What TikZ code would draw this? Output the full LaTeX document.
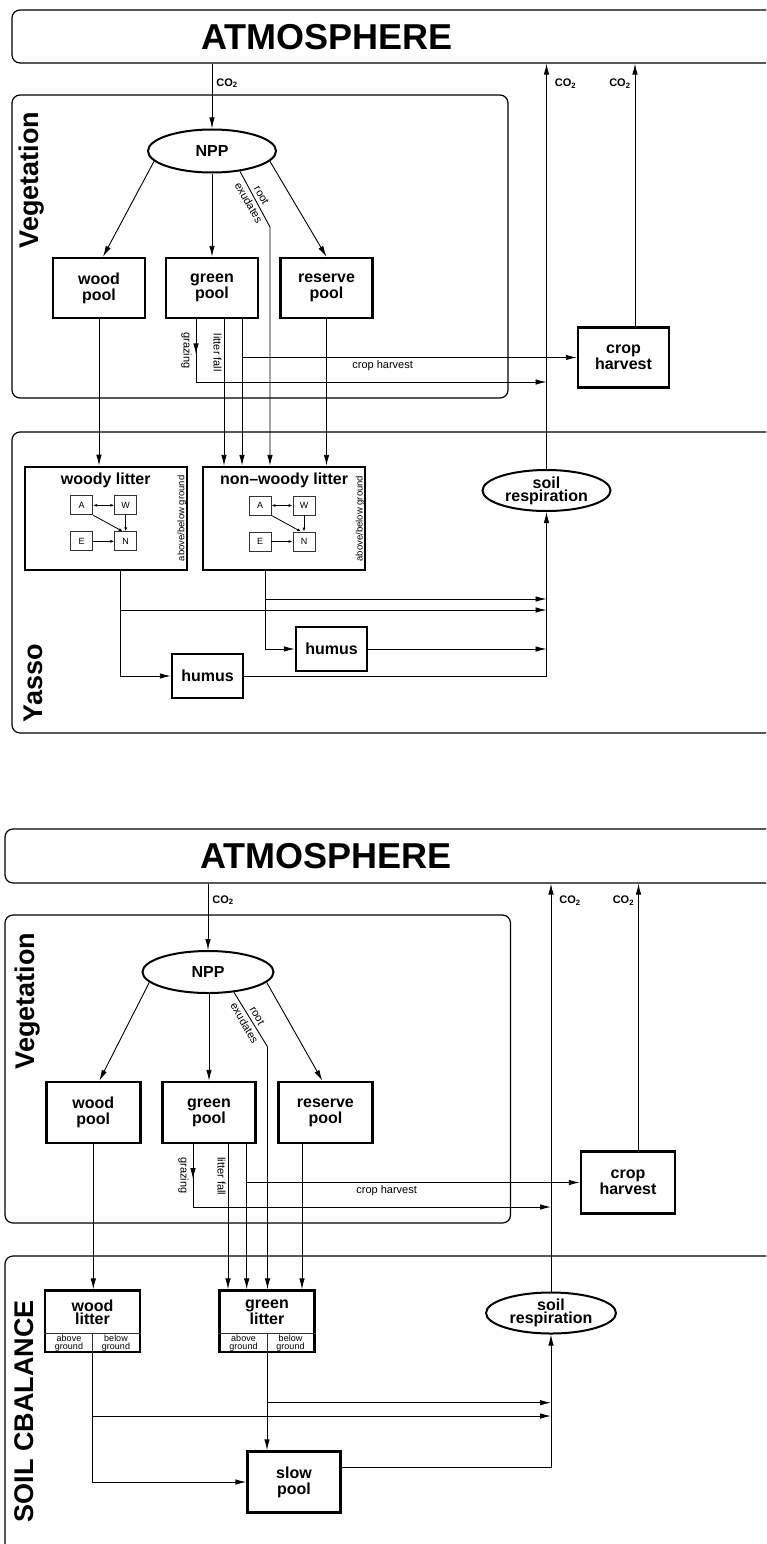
\documentclass[tikz,border=0pt]{standalone}
\usepackage{fontspec}
\setmainfont{Liberation Sans}
\usetikzlibrary{arrows.meta, shapes.geometric, positioning, fit, decorations.markings}

\begin{document}
\begin{tikzpicture}[
    x=1pt, y=-1pt,
    >={Latex[length=11pt,width=5.5pt]},
    panel/.style={draw, line width=1.2pt, rounded corners=8pt, inner sep=0pt},
    pool/.style={draw, line width=2.4pt, minimum width=92pt, minimum height=60pt,
        align=center, inner sep=0pt, font=\fontsize{16}{16}\selectfont\bfseries},
    humus/.style={pool, minimum width=71pt, minimum height=44pt},
    litter/.style={draw, line width=2.4pt, minimum width=162pt, minimum height=103pt},
    litbox/.style={draw, line width=2.4pt, minimum width=95pt, minimum height=61.5pt},
    oval/.style={ellipse, draw, line width=2pt, minimum width=128pt, minimum height=43pt,
        align=center, inner sep=0pt, font=\fontsize{16}{13}\selectfont\bfseries},
    title/.style={align=center, inner sep=0pt, font=\fontsize{16}{13}\selectfont\bfseries},
    comp/.style={draw=black!80, line width=0.8pt, minimum width=22pt, minimum height=19pt,
        inner sep=0pt, font=\fontsize{9}{9}\selectfont},
    flow/.style={->, line width=0.9pt},
    tiny/.style={-{Latex[length=4pt,width=3pt]}, line width=0.8pt},
    tinyboth/.style={{Latex[length=4pt,width=3pt]}-{Latex[length=4pt,width=3pt]}, line width=0.8pt},
    divider/.style={draw=black!80, line width=0.8pt},
    midarrow/.style={postaction={decorate}, decoration={markings,
        mark=at position #1 with {\arrow{Latex[length=11pt,width=5.5pt]}}}},
    big/.style={inner sep=0pt, font=\fontsize{36}{36}\selectfont\bfseries},
    side/.style={inner sep=0pt, rotate=90, font=\fontsize{27}{27}\selectfont\bfseries},
    lab/.style={align=center, inner sep=2pt, font=\fontsize{11}{11}\selectfont},
    rootlab/.style={align=center, inner sep=0pt, rotate=-60, font=\fontsize{11}{15}\selectfont},
    tinylab/.style={align=center, inner sep=0pt, font=\fontsize{9}{7.5}\selectfont},
    gas/.style={inner sep=4pt, font=\fontsize{11}{11}\selectfont\bfseries}
]
\useasboundingbox (0,0) rectangle (766,1544);
\clip (0,0) rectangle (766,1544);

% ---------------- Yasso version ----------------
% Panels
\node[panel, fit={(12,10) (790,63)}] (atm1) {};
\node[big] (atm1t) at (327,37) {ATMOSPHERE};
\node[panel, fit={(12,95) (508,398)}] (veg1) {};
\node[side] (veg1t) at (32,180) {Vegetation};
\node[panel, fit={(12,432) (790,733)}] (yas1) {};
\node[side] (yas1t) at (33,683) {Yasso};

% Nodes
\node[oval] (npp1) at (212,151) {NPP};
\node[pool] (wp1) at (99,288) {wood\\pool};
\node[pool] (gp1) at (212,288) {green\\pool};
\node[pool] (rp1) at (326.5,288) {reserve\\pool};
\node[pool, minimum width=91pt] (ch1) at (623.5,357.5) {crop\\harvest};
\node[litter] (wl1) at (105.7,518.3) {};
\node[litter] (nwl1) at (284,518.5) {};
\node[title] (wl1t) at ([yshift=-14.5pt]wl1.north) {woody litter};
\node[title] (nwl1t) at ([yshift=-14.5pt]nwl1.north) {non--woody litter};
\node[oval, minimum height=41pt] (sr1) at (546.5,490.5) {soil\\respiration};
\node[humus] (hu1) at (207.5,676) {humus};
\node[humus] (hu2) at (331.5,649) {humus};

% Litter compartments
\foreach \b in {wl1, nwl1} {
    \node[comp] (\b-A) at ([xshift=-24pt, yshift=13pt]\b.center) {A};
    \node[comp] (\b-W) at ([xshift=20pt, yshift=13pt]\b.center) {W};
    \node[comp] (\b-E) at ([xshift=-24pt, yshift=-23pt]\b.center) {E};
    \node[comp] (\b-N) at ([xshift=20pt, yshift=-23pt]\b.center) {N};
    \draw[tinyboth] (\b-A) -- (\b-W);
    \draw[tiny] (\b-W) -- (\b-N);
    \draw[tiny] (\b-A.south east) -- ([xshift=-3pt]\b-N.north);
    \draw[tiny] (\b-E) -- (\b-N);
    \node[tinylab, rotate=90, font=\fontsize{9.5}{9.5}\selectfont] (\b-g) at ([xshift=-6pt]\b.east) {above/below ground};
}

% Vegetation flows
\draw[flow] (atm1.south -| npp1) -- node[gas, right, pos=0.3] {CO\textsubscript{2}} (npp1.north);
\draw[flow] (npp1.190) -- ([xshift=4pt]wp1.north);
\draw[flow] (npp1) -- (gp1);
\draw[flow] (npp1.350) -- (rp1.north);
\coordinate (rx1) at (270,227);
\draw[flow] (npp1.324) -- node[rootlab] {root\\exudates} (rx1) -- (rx1 |- nwl1.north);
\draw[flow] (wp1.south) -- (wp1.south |- wl1.north);
\coordinate (gz1) at (196,382);
\draw[flow, midarrow=0.085] (gp1.south -| gz1) -- node[lab, rotate=-90, anchor=north, inner sep=4pt] {grazing} (gz1) -- (gz1 -| sr1);
\coordinate (lf1) at ([xshift=12pt]gp1.south);
\draw[flow] (lf1) -- node[lab, rotate=-90, anchor=north, pos=0.23] {litter fall} (lf1 |- nwl1.north);
\coordinate (ch1a) at ([xshift=30pt]gp1.south);
\draw[flow] (ch1a) -- (ch1a |- nwl1.north);
\draw[flow] (ch1a |- ch1.west) -- node[lab, below, pos=0.42, inner sep=3pt] {crop harvest} (ch1.west);
\draw[flow] (rp1.south) -- (rp1.south |- nwl1.north);
\coordinate (ch1u) at ([xshift=11.5pt]ch1.north);
\draw[flow] (ch1u) -- node[gas, left, pos=0.924] {CO\textsubscript{2}} (ch1u |- atm1.south);
\draw[flow] (sr1.north) -- node[gas, right, pos=0.951, inner sep=8pt] {CO\textsubscript{2}} (sr1.north |- atm1.south);

% Yasso flows
\coordinate (wl1b) at ([xshift=15pt]wl1.south);
\draw[flow] (wl1b) |- (hu1.west);
\draw[flow] (wl1b |- 0,610) -- (sr1 |- 0,610);
\coordinate (nwl1b) at ([xshift=-19pt]nwl1.south);
\draw[flow] (nwl1b) |- (hu2.west);
\draw[flow] (nwl1b |- 0,599) -- (sr1 |- 0,599);
\draw[flow] (hu2.east) -- (hu2.east -| sr1);
\draw[flow] (hu1.east) -| (sr1.south);

% ---------------- CBALANCE version ----------------
% Panels
\node[panel, fit={(5,829) (790,883)}] (atm2) {};
\node[big] (atm2t) at (326,856.5) {ATMOSPHERE};
\node[panel, fit={(5,915) (510.5,1223)}] (veg2) {};
\node[side] (veg2t) at (28,1001) {Vegetation};
\node[panel, fit={(5,1256) (790,1600)}] (soil2) {};
\node[side] (soil2t) at (24.5,1411) {SOIL CBALANCE};

% Nodes
\node[oval, minimum width=131pt, minimum height=42pt] (npp2) at (208,972) {NPP};
\node[pool, minimum width=94pt, minimum height=61pt] (wp2) at (93.3,1112.5) {wood\\pool};
\node[pool, minimum width=93pt, minimum height=61pt] (gp2) at (209,1112.5) {green\\pool};
\node[pool, minimum width=94pt, minimum height=61pt] (rp2) at (325.4,1112.5) {reserve\\pool};
\node[pool, minimum width=94pt, minimum height=62pt] (ch2) at (628,1182.5) {crop\\harvest};
\node[litbox] (wl2) at (92.5,1321.3) {};
\node[litbox] (gl2) at (267,1321.3) {};
\node[oval, minimum width=130pt, minimum height=41pt] (sr2) at (551,1313) {soil\\respiration};
\node[pool, minimum width=93pt, minimum height=61pt] (sp2) at (294,1482) {slow\\pool};
\node[title] (wl2t) at ([yshift=9pt]wl2.center) {wood\\litter};
\node[title] (gl2t) at ([yshift=9pt]gl2.center) {green\\litter};

% Litter subdivisions
\foreach \b in {wl2, gl2} {
    \draw[divider] ([yshift=20pt]\b.south west) -- ([yshift=20pt]\b.south east);
    \draw[divider] (\b.south) -- ([yshift=20pt]\b.south);
    \node[tinylab] (\b-ab) at ([xshift=-23.5pt, yshift=10pt]\b.south) {above\\ground};
    \node[tinylab] (\b-be) at ([xshift=23.5pt, yshift=10pt]\b.south) {below\\ground};
}

% Vegetation flows
\draw[flow] (atm2.south -| npp2) -- node[gas, right, pos=0.25] {CO\textsubscript{2}} (npp2.north);
\draw[flow] (npp2.190) -- ([xshift=6pt]wp2.north);
\draw[flow] (gp2 |- npp2.south) -- (gp2.north);
\draw[flow] (npp2.350) -- ([xshift=-3pt]rp2.north);
\coordinate (rx2) at (267.5,1046.7);
\draw[flow] (npp2.322) -- node[rootlab] {root\\exudates} (rx2) -- (rx2 |- gl2.north);
\draw[flow] (wp2.south) -- (wp2.south |- wl2.north);
\coordinate (gz2) at (193,1207);
\draw[flow, midarrow=0.083] (gp2.south -| gz2) -- node[lab, rotate=-90, anchor=north, inner sep=4pt] {grazing} (gz2) -- (gz2 -| sr2);
\coordinate (lf2) at ([xshift=19pt]gp2.south);
\draw[flow] (lf2) -- node[lab, rotate=-90, anchor=north, pos=0.22] {litter fall} (lf2 |- gl2.north);
\coordinate (ch2a) at ([xshift=37.7pt]gp2.south);
\draw[flow] (ch2a) -- (ch2a |- gl2.north);
\draw[flow] (ch2a |- ch2.west) -- node[lab, below, pos=0.42, inner sep=3pt] {crop harvest} (ch2.west);
\coordinate (rp2b) at ([xshift=-23.4pt]rp2.south);
\draw[flow] (rp2b) -- (rp2b |- gl2.north);
\coordinate (ch2u) at ([xshift=10.5pt]ch2.north);
\draw[flow] (ch2u) -- node[gas, left, pos=0.937] {CO\textsubscript{2}} (ch2u |- atm2.south);
\draw[flow] (sr2.north) -- node[gas, right, pos=0.958, inner sep=8pt] {CO\textsubscript{2}} (sr2.north |- atm2.south);

% Soil flows
\draw[flow] (wl2.south) |- (sp2.west);
\draw[flow] (wl2.south |- 0,1416) -- (sr2 |- 0,1416);
\draw[flow] (gl2.south) -- (gl2.south |- sp2.north);
\draw[flow] (gl2.south |- 0,1402.7) -- (sr2 |- 0,1402.7);
\draw[flow] ([yshift=15pt]sp2.east) -| (sr2.south);

\end{tikzpicture}
\end{document}
